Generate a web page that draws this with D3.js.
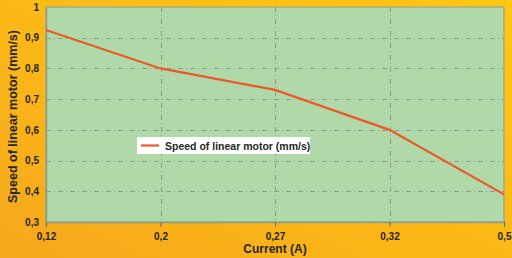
<!DOCTYPE html>
<html>
<head>
<meta charset="utf-8">
<script src="https://cdn.jsdelivr.net/npm/d3@7"></script>
<style>
  body { margin: 0; }
  svg { display: block; font-family: "Liberation Sans", Arial, sans-serif; }
</style>
</head>
<body>
<div id="chart"></div>
<script>
// chart data
const currents = ["0,12", "0,2", "0,27", "0,32", "0,5"];
const speeds = [0.925, 0.80, 0.73, 0.60, 0.39];
const yTicks = [0.3, 0.4, 0.5, 0.6, 0.7, 0.8, 0.9, 1];
const seriesName = "Speed of linear motor (mm/s)";

const width = 512, height = 258;
const margin = {top: 7, right: 8, bottom: 36, left: 46};

const svg = d3.select("#chart").append("svg")
    .attr("width", width)
    .attr("height", height);

// orange-yellow background
const defs = svg.append("defs");
const grad = defs.append("linearGradient")
    .attr("id", "bg")
    .attr("x1", "0").attr("y1", "1")
    .attr("x2", "1").attr("y2", "0");
grad.append("stop").attr("offset", "0%").attr("stop-color", "#f5a71d");
grad.append("stop").attr("offset", "45%").attr("stop-color", "#fcb816");
grad.append("stop").attr("offset", "100%").attr("stop-color", "#ffc712");

svg.append("rect")
    .attr("width", width).attr("height", height)
    .attr("fill", "url(#bg)");

const x = d3.scalePoint()
    .domain(currents)
    .range([margin.left, width - margin.right]);

const y = d3.scaleLinear()
    .domain([0.3, 1])
    .range([height - margin.bottom, margin.top]);

// plot area
svg.append("rect")
    .attr("x", margin.left)
    .attr("y", margin.top)
    .attr("width", width - margin.left - margin.right)
    .attr("height", height - margin.top - margin.bottom)
    .attr("fill", "#b0d8a9")
    .attr("stroke", "#8f9c8c")
    .attr("stroke-width", 1);

// gridlines, dash-dot
const grid = svg.append("g")
    .attr("stroke", "#8e9a8e")
    .attr("stroke-width", 1)
    .attr("stroke-dasharray", "5,3,1,3");

grid.selectAll("line.h")
    .data(yTicks.filter(d => d > 0.3 && d < 1))
    .enter().append("line")
    .attr("class", "h")
    .attr("x1", margin.left)
    .attr("x2", width - margin.right)
    .attr("y1", d => Math.round(y(d)) + 0.5)
    .attr("y2", d => Math.round(y(d)) + 0.5);

grid.selectAll("line.v")
    .data(currents.slice(1, -1))
    .enter().append("line")
    .attr("class", "v")
    .attr("y1", margin.top)
    .attr("y2", height - margin.bottom)
    .attr("x1", d => Math.round(x(d)) + 0.5)
    .attr("x2", d => Math.round(x(d)) + 0.5);

// axes
const xAxis = svg.append("g")
    .attr("transform", `translate(0,${height - margin.bottom})`)
    .call(d3.axisBottom(x).tickSize(5).tickPadding(6));

const yAxis = svg.append("g")
    .attr("transform", `translate(${margin.left},0)`)
    .call(d3.axisLeft(y).tickValues(yTicks).tickSize(0).tickPadding(7)
        .tickFormat(d => d === 1 ? "1" : d3.format(".1f")(d).replace(".", ",")));

[xAxis, yAxis].forEach(g => {
    g.select(".domain").attr("stroke", "#8f9c8c").attr("stroke-width", 1.5);
    g.selectAll(".tick line").attr("stroke", "#6f6f6f");
    g.selectAll(".tick text")
        .attr("fill", "#262626")
        .style("font-size", "10px")
        .style("font-weight", "bold");
});

// line
const line = d3.line()
    .x((d, i) => x(currents[i]))
    .y(d => y(d));

svg.append("path")
    .datum(speeds)
    .attr("fill", "none")
    .attr("stroke", "#ea5a28")
    .attr("stroke-width", 2.2)
    .attr("d", line);

// axis titles
svg.append("text")
    .attr("x", (margin.left + width - margin.right) / 2)
    .attr("y", 253)
    .attr("text-anchor", "middle")
    .attr("fill", "#262626")
    .style("font-size", "12px")
    .style("font-weight", "bold")
    .text("Current (A)");

svg.append("text")
    .attr("transform", `translate(17,${(margin.top + height - margin.bottom) / 2 + 2}) rotate(-90)`)
    .attr("text-anchor", "middle")
    .attr("fill", "#262626")
    .style("font-size", "12.5px")
    .style("font-weight", "bold")
    .text(seriesName);

// legend
const legend = svg.append("g").attr("transform", "translate(137,137)");
legend.append("rect")
    .attr("width", 173).attr("height", 17)
    .attr("fill", "#ffffff");
legend.append("line")
    .attr("x1", 4).attr("x2", 22)
    .attr("y1", 8.5).attr("y2", 8.5)
    .attr("stroke", "#ea5a28")
    .attr("stroke-width", 2.2);
legend.append("text")
    .attr("x", 28).attr("y", 12.5)
    .attr("fill", "#262626")
    .style("font-size", "10.5px")
    .style("font-weight", "bold")
    .text(seriesName);
</script>
</body>
</html>
